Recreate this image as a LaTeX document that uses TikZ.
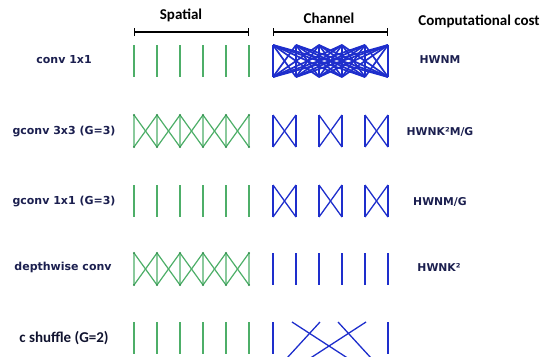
\documentclass[tikz,border=0pt]{standalone}
\usepackage{fontspec}
\setmainfont{DejaVu Sans}
\newfontfamily\headfont{Carlito}
\usetikzlibrary{arrows.meta}
\definecolor{navy}{HTML}{1B1F4F}
\definecolor{sgreen}{HTML}{4DAE68}
\definecolor{dgreen}{HTML}{2E8C4A}
\definecolor{cblue}{HTML}{1E2ECC}

\begin{document}
\begin{tikzpicture}[x=1pt,y=-1pt,
  rowlabel/.style={font=\bfseries\fontsize{11}{12}\selectfont, text=navy, inner sep=0pt},
  costlabel/.style={font=\bfseries\fontsize{10.8}{12}\selectfont, text=navy, inner sep=0pt},
  header/.style={font=\headfont\bfseries\fontsize{15}{18}\selectfont, inner sep=0pt},
  sp/.style={draw=sgreen, line width=1.2pt},
  spv/.style={draw=sgreen!65, line width=1.1pt},
  ch/.style={draw=cblue, line width=1.3pt},
  chfull/.style={draw=cblue, line width=1.7pt},
  bracket/.style={line width=1.2pt, {Bar[width=8pt]}-{Bar[width=8pt]}},
  vdot/.style={fill=dgreen, draw=none, circle, inner sep=0pt, minimum size=2.4pt}]

\useasboundingbox (0,0) rectangle (546,356);
\clip (0,0) rectangle (546,356);

% column headers and brackets
\node[header] (hsp) at (181,15) {Spatial};
\node[header] (hch) at (329,18.5) {Channel};
\node[header] (hcost) at (479,21) {Computational cost};
\coordinate (spl) at (134,32);
\coordinate (spr) at (249,32);
\coordinate (chl) at (273,32);
\coordinate (chr) at (388,32);
\draw[bracket] (spl) -- (spr);
\draw[bracket] (chl) -- (chr);

% end points of every line: spatial s<row>t/b<i>, channel c<row>t/b<i>
\foreach \r/\top in {1/45,2/115,3/185,4/253,5/322}{
  \foreach \i in {0,...,5}{
    \coordinate (s\r t\i) at ({134+23*\i},\top);
    \coordinate (s\r b\i) at ({134+23*\i},\top+32);
    \coordinate (c\r t\i) at ({273+23*\i},\top);
    \coordinate (c\r b\i) at ({273+23*\i},\top+32);
  }
}

% row labels
\node[rowlabel] (l1) at (64,60) {conv 1x1};
\node[rowlabel] (l2) at (64,131.5) {gconv 3x3 (G=3)};
\node[rowlabel] (l3) at (64,201.5) {gconv 1x1 (G=3)};
\node[rowlabel] (l4) at (63,267) {depthwise conv};
\node[font=\headfont\bfseries\fontsize{15}{18}\selectfont, text=navy!60!black, inner sep=0pt] (l5) at (64,338) {c shuffle (G=2)};

% cost labels
\node[costlabel] (k1) at (440,60) {HWNM};
\node[costlabel] (k2) at (440,131.5) {HWNK²M/G};
\node[costlabel] (k3) at (440,201.5) {HWNM/G};
\node[costlabel] (k4) at (439,267) {HWNK²};

% row 1: conv 1x1
\foreach \i in {0,...,5}{
  \draw[sp] (s1t\i) -- (s1b\i);
  \foreach \j in {0,...,5}{ \draw[chfull] (c1t\i) -- (c1b\j); }
}

% rows 2 and 4: 3x3 spatial connections
\foreach \r in {2,4}{
  \foreach \i in {0,...,5}{ \draw[spv] (s\r t\i) -- (s\r b\i); }
  \foreach \i [evaluate=\i as \j using int(\i+1)] in {0,...,4}{
    \draw[sp] (s\r t\i) -- (s\r b\j);
    \draw[sp] (s\r b\i) -- (s\r t\j);
  }
  \foreach \i in {0,...,5}{
    \node[vdot] at (s\r t\i) {};
    \node[vdot] at (s\r b\i) {};
  }
}

% rows 3 and 5: 1x1 spatial connections
\foreach \r in {3,5}{
  \foreach \i in {0,...,5}{ \draw[sp] (s\r t\i) -- (s\r b\i); }
}

% rows 2 and 3: grouped channels
\foreach \r in {2,3}{
  \foreach \g [evaluate=\g as \h using int(\g+1)] in {0,2,4}{
    \draw[ch] (c\r t\g) -- (c\r b\g);
    \draw[ch] (c\r t\h) -- (c\r b\h);
    \draw[ch] (c\r t\g) -- (c\r b\h);
    \draw[ch] (c\r b\g) -- (c\r t\h);
  }
}

% row 4: depthwise channels
\foreach \i in {0,...,5}{ \draw[ch] (c4t\i) -- (c4b\i); }

% row 5: channel shuffle
\draw[ch] (c5t0) -- (c5b0);
\draw[ch] (c5t5) -- (c5b5);
\coordinate (u1) at (292,322);
\coordinate (u2) at (320,322);
\coordinate (u3) at (338,322);
\coordinate (u4) at (366,322);
\coordinate (v1) at (366,370);
\coordinate (v2) at (276,370);
\coordinate (v3) at (382,370);
\coordinate (v4) at (292,370);
\draw[ch] (u1) -- (v1);
\draw[ch] (u2) -- (v2);
\draw[ch] (u3) -- (v3);
\draw[ch] (u4) -- (v4);
\end{tikzpicture}
\end{document}
